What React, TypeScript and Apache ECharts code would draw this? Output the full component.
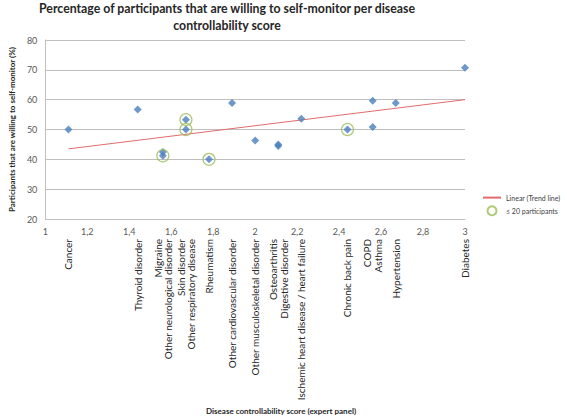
import React, { useEffect, useRef } from "react";
import * as echarts from "echarts";

const diseases = [
  "Cancer",
  "Thyroid disorder",
  "Migraine",
  "Other neurological disorder",
  "Skin disorder",
  "Other respiratory disease",
  "Rheumatism",
  "Other cardiovascular disorder",
  "Other musculoskeletal disorder",
  "Osteoarthritis",
  "Digestive disorder",
  "Ischemic heart disease / heart failure",
  "Chronic back pain",
  "COPD",
  "Asthma",
  "Hypertension",
  "Diabetes",
];
const controllability = [1.11, 1.44, 1.56, 1.56, 1.67, 1.67, 1.78, 1.89, 2.0, 2.11, 2.11, 2.22, 2.44, 2.56, 2.56, 2.67, 3.0];
const willingness = [50.0, 56.7, 42.5, 41.2, 53.3, 50.0, 40.0, 58.9, 46.3, 45.0, 44.5, 53.6, 50.0, 59.6, 50.8, 58.9, 70.7];
const fewParticipants = [false, false, false, true, true, true, true, false, false, false, false, false, true, false, false, false, false];
const trendLine = [
  [1.11, 43.5],
  [3.0, 60.0],
];

const TITLE = "Percentage of participants that are willing to self-monitor per disease\ncontrollability score";
const X_NAME = "Disease controllability score (expert panel)";
const Y_NAME = "Participants that are willing to self-monitor (%)";
const TREND_NAME = "Linear (Trend line)";
const SMALL_NAME = "\u2264 20 participants";

const FONT = "Lato, 'Open Sans', sans-serif";

export default function App() {
  const ref = useRef<HTMLDivElement>(null);
  useEffect(() => {
    if (!ref.current) return;
    const chart = echarts.init(ref.current, undefined, { renderer: "svg" });

    const points = controllability.map((x, i) => [x, willingness[i]]);
    const circled = controllability
      .map((x, i) => (fewParticipants[i] ? [x, willingness[i]] : null))
      .filter((p) => p !== null);

    // group labels sharing the same score
    const groups: { x: number; names: string[] }[] = [];
    controllability.forEach((x, i) => {
      const g = groups.find((gg) => gg.x === x);
      if (g) g.names.push(diseases[i]);
      else groups.push({ x, names: [diseases[i]] });
    });
    const labelX = groups.map((g) => g.x);
    const labelText = groups.map((g) => g.names.join("\n"));

    chart.setOption({
      animation: false,
      textStyle: { fontFamily: FONT },
      title: {
        text: TITLE,
        left: 227,
        top: 0,
        padding: 0,
        textAlign: "center",
        textStyle: { fontSize: 12.3, fontWeight: "bold", color: "#262626", lineHeight: 17, fontFamily: FONT },
      },
      legend: {
        orient: "vertical",
        left: 477,
        top: 189,
        itemWidth: 18,
        itemHeight: 9,
        itemGap: 4,
        textStyle: { fontSize: 7, color: "#404040", fontFamily: FONT },
        data: [
          { name: TREND_NAME, itemStyle: { opacity: 0 } },
          { name: SMALL_NAME },
        ],
      },
      grid: { left: 32, top: 40, width: 433, height: 179, containLabel: false },
      xAxis: {
        type: "value",
        min: 1,
        max: 3,
        interval: 0.2,
        axisLine: { show: true, lineStyle: { color: "#bfbfbf" } },
        axisTick: { show: false },
        splitLine: { show: false },
        axisLabel: {
          fontSize: 9,
          color: "#595959",
          margin: 8,
          formatter: (v: number) => {
            const r = Math.round(v * 10) / 10;
            return Number.isInteger(r) ? String(r) : r.toFixed(1).replace(".", ",");
          },
        },
      },
      yAxis: {
        type: "value",
        min: 20,
        max: 80,
        interval: 10,
        name: Y_NAME,
        nameLocation: "middle",
        nameGap: 27,
        nameTextStyle: { fontSize: 8, fontWeight: "bold", color: "#262626" },
        axisLine: { show: true, lineStyle: { color: "#bfbfbf" } },
        axisTick: { show: false },
        splitLine: { show: true, lineStyle: { color: "#bfbfbf" } },
        axisLabel: { fontSize: 9, color: "#595959", margin: 8 },
      },
      series: [
        {
          name: TREND_NAME,
          type: "line",
          data: trendLine,
          symbol: "none",
          lineStyle: { color: "#e06c6c", width: 1 },
          itemStyle: { color: "#e06c6c" },
          z: 2,
        },
        {
          name: "Willingness",
          type: "scatter",
          data: points,
          symbol: "diamond",
          symbolSize: 8,
          itemStyle: { color: "#4a7ebb" },
          z: 3,
        },
        {
          name: SMALL_NAME,
          type: "scatter",
          data: circled,
          symbol: "circle",
          symbolSize: 12,
          itemStyle: { color: "rgba(0,0,0,0)", borderColor: "#9bbb59", borderWidth: 1.2 },
          z: 4,
        },
        {
          name: "labels",
          type: "custom",
          silent: true,
          clip: false,
          data: labelX.map((x, i) => [x, 20, i]),
          renderItem: (params: any, api: any) => {
            const pt = api.coord([api.value(0), api.value(1)]);
            const idx = api.value(2);
            return {
              type: "text",
              x: pt[0],
              y: pt[1] + 20,
              rotation: Math.PI / 2,
              style: {
                text: labelText[idx],
                align: "right",
                verticalAlign: "middle",
                fontSize: 10,
                lineHeight: 10.5,
                fill: "#262626",
                fontFamily: FONT,
              },
            };
          },
          z: 1,
        },
      ],
      graphic: [
        {
          type: "text",
          left: 206,
          top: 407,
          style: { text: X_NAME, fontSize: 8, fontWeight: "bold", fill: "#262626", fontFamily: FONT },
        },
      ],
    });
    return () => chart.dispose();
  }, []);

  return (
    <div
      ref={ref}
      style={{ position: "fixed", left: 0, top: 0, width: 567, height: 419, background: "#fff" }}
    />
  );
}
